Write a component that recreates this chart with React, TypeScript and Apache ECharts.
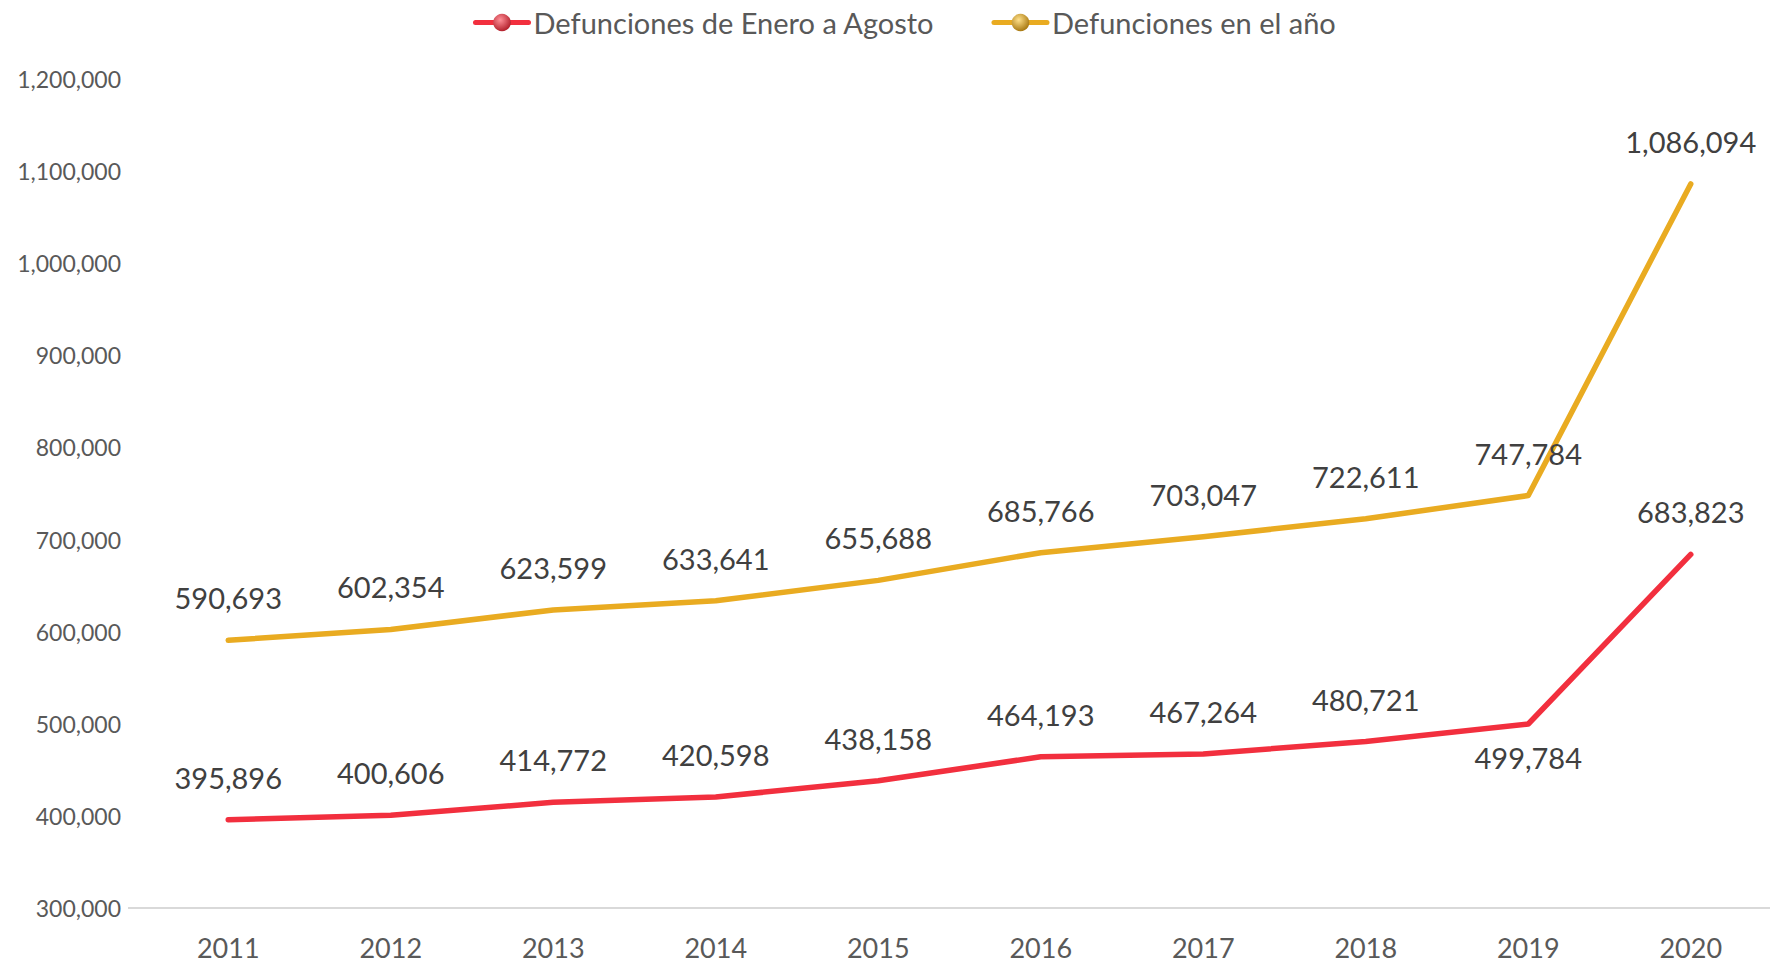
import React, { useEffect, useRef } from "react";
import * as echarts from "echarts";

const years = ["2011", "2012", "2013", "2014", "2015", "2016", "2017", "2018", "2019", "2020"];
const eneroAgosto = [395896, 400606, 414772, 420598, 438158, 464193, 467264, 480721, 499784, 683823];
const enElAnio = [590693, 602354, 623599, 633641, 655688, 685766, 703047, 722611, 747784, 1086094];
const seriesNames = ["Defunciones de Enero a Agosto", "Defunciones en el año"];

const RED = "#F22F3E";
const GOLD = "#E9AB21";
const FONT = "Lato, 'Open Sans', sans-serif";

const fmt = (v: number) => v.toLocaleString("en-US");

function sphere(light: string, dark: string) {
  return {
    type: "radial",
    x: 0.4,
    y: 0.35,
    r: 0.75,
    colorStops: [
      { offset: 0, color: light },
      { offset: 1, color: dark },
    ],
  };
}

export default function App() {
  const ref = useRef<HTMLDivElement>(null);
  useEffect(() => {
    if (!ref.current) return;
    const chart = echarts.init(ref.current, null, { renderer: "svg" });
    const redData = eneroAgosto.map((v, i) => ({
      value: v,
      label: i === 8 ? { position: "bottom", distance: 19 } : undefined,
    }));
    const labelStyle = {
      show: true,
      position: "top",
      distance: 28,
      fontFamily: FONT,
      fontSize: 29,
      color: "#404040",
      formatter: (p: any) => fmt(p.value),
    };
    chart.setOption({
      animation: false,
      backgroundColor: "#ffffff",
      textStyle: { fontFamily: FONT },
      legend: {
        top: 3,
        left: 468,
        itemWidth: 53,
        itemHeight: 22,
        itemGap: 57,
        textStyle: { fontFamily: FONT, fontSize: 29, color: "#595959" },
        data: [
          { name: seriesNames[0], lineStyle: { width: 5 } },
          { name: seriesNames[1], lineStyle: { width: 5 } },
        ],
      },
      grid: {
        left: 147,
        top: 79,
        width: 1625,
        bottom: 59,
        containLabel: false,
        outerBoundsMode: "none",
      },
      xAxis: {
        type: "category",
        data: years,
        boundaryGap: true,
        axisLine: { show: true, lineStyle: { color: "#D9D9D9", width: 2 } },
        axisTick: { show: false },
        axisLabel: { fontFamily: FONT, fontSize: 27, color: "#595959", margin: 26 },
        splitLine: { show: false },
      },
      yAxis: {
        type: "value",
        min: 300000,
        max: 1200000,
        interval: 100000,
        axisLine: { show: false },
        axisTick: { show: false },
        splitLine: { show: false },
        axisLabel: {
          fontFamily: FONT,
          fontSize: 23,
          color: "#595959",
          margin: 26,
          formatter: (v: number) => fmt(v),
        },
      },
      graphic: [
        {
          type: "line",
          shape: { x1: 128, y1: 908, x2: 148, y2: 908 },
          style: { stroke: "#D9D9D9", lineWidth: 2 },
          silent: true,
        },
      ],
      series: [
        {
          name: seriesNames[0],
          type: "line",
          data: redData,
          symbol: "circle",
          symbolSize: 0,
          showSymbol: true,
          itemStyle: { color: sphere("#ff8f97", "#a8101c") },
          lineStyle: { color: RED, width: 5.5, cap: "round", join: "round" },
          label: labelStyle,
          emphasis: { disabled: true },
        },
        {
          name: seriesNames[1],
          type: "line",
          data: enElAnio,
          symbol: "circle",
          symbolSize: 0,
          showSymbol: true,
          itemStyle: { color: sphere("#ffe08a", "#9c6a00") },
          lineStyle: { color: GOLD, width: 5.5, cap: "round", join: "round" },
          label: labelStyle,
          emphasis: { disabled: true },
        },
      ],
    });
    return () => chart.dispose();
  }, []);
  return (
    <div
      ref={ref}
      style={{ position: "fixed", left: 0, top: 0, width: 1770, height: 967, background: "#fff" }}
    />
  );
}
